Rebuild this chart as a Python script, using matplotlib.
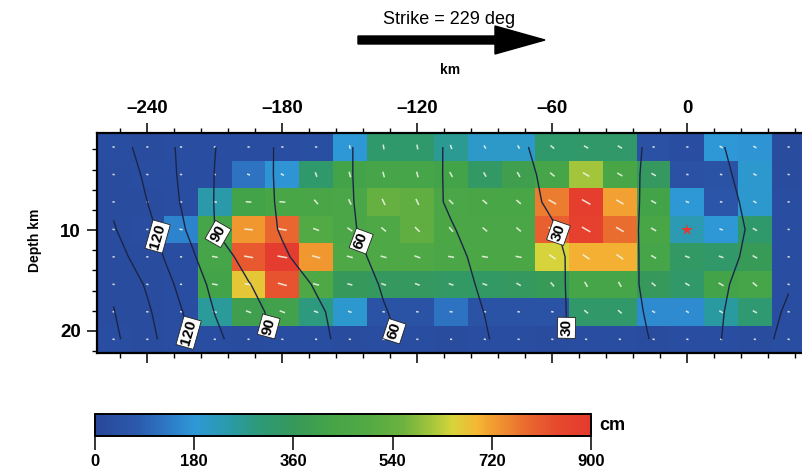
import numpy as np
import matplotlib
matplotlib.use("Agg")
import matplotlib.pyplot as plt
from matplotlib.colors import LinearSegmentedColormap
from matplotlib.ticker import MultipleLocator, FixedLocator
from matplotlib.patches import FancyArrow

plt.rcParams['font.family'] = ['Liberation Sans', 'DejaVu Sans']

# ---------------- data ----------------
strike_km = [-255, -240, -225, -210, -195, -180, -165, -150, -135, -120, -105,
             -90, -75, -60, -45, -30, -15, 0, 15, 30, 45]
depth_km = [1.76, 4.49, 7.21, 9.94, 12.66, 15.39, 18.11, 20.84]

# slip (cm), rows = depth, cols = strike
slip_cm = [
    [25, 20, 30, 25, 30, 30, 35, 180, 320, 320, 270, 200, 200, 320, 330, 330, 40, 30, 180, 175, 20],
    [20, 25, 25, 30, 120, 175, 320, 420, 430, 430, 420, 340, 400, 430, 610, 440, 350, 40, 50, 190, 20],
    [20, 20, 25, 240, 420, 440, 440, 450, 540, 530, 450, 440, 440, 760, 880, 720, 420, 180, 60, 190, 25],
    [20, 25, 150, 430, 730, 790, 490, 450, 470, 530, 460, 450, 450, 800, 870, 780, 440, 230, 180, 320, 25],
    [20, 20, 25, 430, 810, 890, 730, 470, 470, 470, 450, 460, 460, 650, 700, 700, 430, 340, 330, 370, 25],
    [20, 20, 25, 420, 670, 820, 470, 360, 350, 350, 340, 340, 350, 370, 430, 430, 360, 330, 420, 430, 25],
    [20, 20, 25, 260, 400, 410, 290, 190, 50, 50, 120, 50, 50, 50, 330, 330, 160, 160, 250, 310, 25],
    [25, 20, 25, 25, 20, 25, 25, 20, 25, 25, 20, 25, 25, 20, 25, 25, 20, 25, 25, 20, 25],
]

# rake direction of slip vectors, as drawn (deg from horizontal)
rake_deg = [
    [-10, -10, -10, -10, -10, -10, -10, -80, -80, -80, -70, -60, -60, -40, -30, -30, -20, -10, -30, -30, -10],
    [-10, -10, -10, -10, -20, -30, -70, -75, -75, -75, -60, -60, -60, -40, -30, -30, -30, -10, -10, -30, -10],
    [-10, -10, -10, -10, -5, -5, -50, -65, -65, -65, -45, -40, -40, -30, -30, -30, -30, -20, -10, -30, -10],
    [-10, -10, -10, -10, -5, -10, -20, -35, -40, -45, -50, -40, -40, -30, -30, -30, -30, -20, -20, -30, -10],
    [-10, -10, -10, -10, -10, -10, -15, -15, -15, -20, -10, -10, -10, -35, -35, -35, -30, -20, -20, -30, -10],
    [-10, -10, -10, -10, -10, -15, -15, -15, -20, -20, -20, -20, -30, -50, -60, -60, -40, -30, -30, -40, -10],
    [-10, -10, -10, -20, -20, -20, -20, -20, -10, -10, -10, -10, -10, -10, -40, -40, -30, -30, -30, -30, -10],
    [-10, -10, -10, -10, -10, -10, -10, -10, -10, -10, -10, -10, -10, -10, -10, -10, -10, -10, -10, -10, -10],
]

# rupture time (s) at cell centres
rupture_s = [
    [126.5, 114.8, 102.9, 90.3, 81.0, 72.9, 66.7, 60.5, 54.9, 49.3, 43.6, 37.6, 31.4, 26.6, 22.2, 17.7, 13.6, 10.0, 14.4, 20.0, 25.0],
    [131.3, 117.2, 103.2, 89.7, 80.8, 72.9, 66.7, 60.5, 54.8, 49.2, 43.6, 38.2, 32.7, 27.6, 22.9, 18.1, 12.9, 7.0, 13.1, 19.0, 24.0],
    [133.0, 120.0, 104.3, 89.5, 81.0, 73.2, 66.9, 60.7, 54.9, 49.3, 43.7, 38.6, 33.5, 28.4, 23.5, 18.5, 12.5, 4.0, 11.5, 18.0, 23.0],
    [136.0, 124.2, 107.3, 90.0, 81.8, 73.9, 67.5, 61.1, 55.8, 50.7, 45.7, 40.7, 35.8, 30.9, 25.1, 19.2, 11.6, 0.0, 10.1, 17.0, 22.0],
    [141.0, 127.4, 111.7, 96.4, 85.3, 76.6, 69.6, 62.9, 57.2, 52.3, 47.4, 42.4, 37.4, 32.3, 26.2, 19.3, 11.7, 3.0, 11.4, 18.0, 24.0],
    [148.0, 133.2, 116.5, 101.2, 90.6, 82.1, 73.8, 66.1, 58.9, 53.8, 48.7, 43.5, 38.0, 32.5, 26.0, 18.8, 12.1, 6.0, 13.0, 21.0, 29.0],
    [150.5, 137.1, 120.8, 104.6, 94.3, 85.3, 77.3, 69.1, 60.7, 55.3, 50.0, 44.8, 38.8, 32.7, 26.1, 19.1, 13.2, 9.0, 14.2, 22.8, 32.0],
    [152.8, 139.5, 124.5, 108.3, 96.7, 87.1, 78.6, 70.4, 62.4, 56.3, 51.1, 45.9, 39.5, 32.8, 26.2, 19.5, 14.3, 12.0, 14.9, 24.5, 34.4],
]
plain_levels = [15, 45, 75, 105, 135, 150]
labeled_levels = [30, 60, 90, 120]

hypocenter = (0, 10)
strike_deg = 229
cbar_ticks = [0, 180, 360, 540, 720, 900]
x_ticks = [-240, -180, -120, -60, 0]
y_ticks = [10, 20]

# ---------------- style ----------------
W, H = 802, 472
fig = plt.figure(figsize=(W / 100, H / 100), dpi=100)

cmap = LinearSegmentedColormap.from_list("slip", [
    (0.00, "#28489a"), (0.08, "#2b58ab"), (0.15, "#2d7cc8"), (0.20, "#2e98d6"),
    (0.27, "#2a9aa8"), (0.33, "#2d9a78"), (0.40, "#36985a"), (0.47, "#44a448"),
    (0.55, "#52aa44"), (0.62, "#6cb23e"), (0.68, "#a4c63c"), (0.72, "#d6d43a"),
    (0.77, "#f4b834"), (0.81, "#f09830"), (0.87, "#ea6a30"), (0.93, "#e64a2e"),
    (1.00, "#e43a2e")])

def px(x0, y0, x1, y1):
    return [x0 / W, 1 - y1 / H, (x1 - x0) / W, (y1 - y0) / H]

ax = fig.add_axes(px(96.7, 133.3, 805.5, 353))
X, Z = np.meshgrid(strike_km, depth_km)
S = np.array(slip_cm, dtype=float)
T = np.array(rupture_s, dtype=float)
R = np.array(rake_deg, dtype=float)

mesh = ax.pcolormesh(X, Z, S, cmap=cmap, vmin=0, vmax=900, shading='nearest')

# slip vectors (short light dashes)
L = 2.0 + 8.0 * S / 900.0
ax.quiver(X, Z, L, np.zeros_like(L), angles=R, scale_units='dots', scale=1,
          pivot='middle', color='#f6f6ec', alpha=0.85, width=0.0022,
          headwidth=0, headlength=0, headaxislength=0, zorder=2)

line_col = '#1c2546'
ax.contour(X, Z, T, levels=plain_levels, colors=line_col, linewidths=1.0, zorder=3)
cs = ax.contour(X, Z, T, levels=labeled_levels, colors=line_col, linewidths=1.0,
                zorder=3)
lab_pos = [(-236.3, 10.7), (-221.8, 20.2), (-210.5, 10.7), (-186.7, 19.6),
           (-147.4, 11.3), (-131.1, 20.1), (-56.3, 10.2), (-53.3, 19.7)]
labels = ax.clabel(cs, inline=True, fmt='%d', fontsize=11, manual=lab_pos,
                   inline_spacing=2)
for t in labels:
    t.set_fontweight('bold')
    t.set_color('black')
    t.set_zorder(4)
    t.set_bbox(dict(facecolor='white', edgecolor='#222222', linewidth=0.6, pad=1.4))

ax.plot(*hypocenter, marker='*', color='#e23a30', markersize=9, markeredgewidth=0,
        zorder=5)

ax.set_xlim(-262.5, 52.5)
ax.set_ylim(22.2, 0.4)
ax.xaxis.set_major_locator(FixedLocator(x_ticks))
ax.xaxis.set_minor_locator(MultipleLocator(12))
ax.yaxis.set_major_locator(FixedLocator(y_ticks))
ax.yaxis.set_minor_locator(MultipleLocator(2))
ax.xaxis.set_ticks_position('both')
ax.tick_params(axis='x', which='both', labeltop=True, labelbottom=False)
ax.tick_params(which='major', direction='out', length=7.5, width=1.1,
               labelsize=13.5, pad=4)
ax.tick_params(which='minor', direction='out', length=3.5, width=1.0)
ax.set_xticklabels(['\u2013240', '\u2013180', '\u2013120', '\u201360', '0'])
for lbl in ax.get_xticklabels() + ax.get_yticklabels():
    lbl.set_fontweight('bold')
for sp in ax.spines.values():
    sp.set_linewidth(1.6)

fig.text(35 / W, 1 - 240 / H, 'Depth km', rotation=90, ha='center', va='center',
         fontsize=10, fontweight='bold')
fig.text(450 / W, 1 - 70 / H, 'km', ha='center', va='center', fontsize=10,
         fontweight='bold')
fig.text(449 / W, 1 - 19 / H, f'Strike = {strike_deg} deg', ha='center',
         va='center', fontsize=13)

arrow = FancyArrow(358 / 100, (H - 40) / 100, (545 - 358) / 100, 0,
                   width=0.08, head_width=0.28, head_length=0.5,
                   length_includes_head=True, color='black',
                   transform=fig.dpi_scale_trans)
fig.add_artist(arrow)

cax = fig.add_axes(px(95, 414, 591, 436))
cb = fig.colorbar(mesh, cax=cax, orientation='horizontal', ticks=cbar_ticks)
cb.outline.set_linewidth(1.4)
cax.tick_params(direction='out', length=10, width=1.1, labelsize=12, pad=3)
for lbl in cax.get_xticklabels():
    lbl.set_fontweight('bold')
fig.text(612 / W, 1 - 425 / H, 'cm', ha='center', va='center', fontsize=13,
         fontweight='bold')

fig.savefig('out.png', dpi=100)
